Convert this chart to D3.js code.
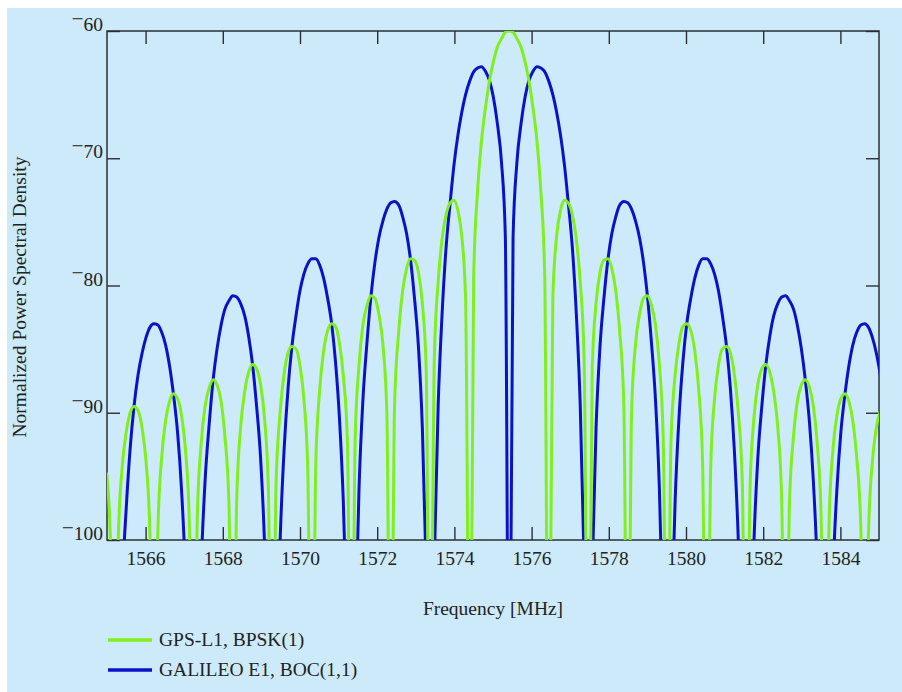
<!DOCTYPE html>
<html><head><meta charset="utf-8">
<script src="https://cdn.jsdelivr.net/npm/d3@7"></script>
<style>
html,body{margin:0;padding:0;background:#fff;}
svg{display:block;}
text{font-family:"Liberation Serif","Times New Roman",serif;fill:#222;}
</style></head><body>
<svg id="chart" width="902" height="692"></svg>
<script>
// Frequency samples [MHz]
const freqMHz = [
1564.99,1565.09,1565.19,1565.29,1565.39,1565.50,1565.60,1565.70,1565.80,1565.91,
1566.01,1566.11,1566.21,1566.32,1566.42,1566.52,1566.62,1566.72,1566.83,1566.93,
1567.03,1567.13,1567.24,1567.34,1567.44,1567.54,1567.65,1567.75,1567.85,1567.95,
1568.05,1568.16,1568.26,1568.36,1568.46,1568.57,1568.67,1568.77,1568.87,1568.98,
1569.08,1569.18,1569.28,1569.38,1569.49,1569.59,1569.69,1569.79,1569.90,1570.00,
1570.10,1570.20,1570.31,1570.41,1570.51,1570.61,1570.71,1570.82,1570.92,1571.02,
1571.12,1571.23,1571.33,1571.43,1571.53,1571.63,1571.74,1571.84,1571.94,1572.04,
1572.15,1572.25,1572.35,1572.45,1572.56,1572.66,1572.76,1572.86,1572.96,1573.07,
1573.17,1573.27,1573.37,1573.48,1573.58,1573.68,1573.78,1573.89,1573.99,1574.09,
1574.19,1574.29,1574.40,1574.50,1574.60,1574.70,1574.81,1574.91,1575.01,1575.11,
1575.22,1575.32,
1575.42,
1575.52,1575.62,1575.73,1575.83,1575.93,1576.03,1576.14,1576.24,1576.34,1576.44,
1576.55,1576.65,1576.75,1576.85,1576.95,1577.06,1577.16,1577.26,1577.36,1577.47,
1577.57,1577.67,1577.77,1577.88,1577.98,1578.08,1578.18,1578.28,1578.39,1578.49,
1578.59,1578.69,1578.80,1578.90,1579.00,1579.10,1579.21,1579.31,1579.41,1579.51,
1579.61,1579.72,1579.82,1579.92,1580.02,1580.13,1580.23,1580.33,1580.43,1580.54,
1580.64,1580.74,1580.84,1580.94,1581.05,1581.15,1581.25,1581.35,1581.46,1581.56,
1581.66,1581.76,1581.86,1581.97,1582.07,1582.17,1582.27,1582.38,1582.48,1582.58,
1582.68,1582.79,1582.89,1582.99,1583.09,1583.20,1583.30,1583.40,1583.50,1583.60,
1583.71,1583.81,1583.91,1584.01,1584.12,1584.22,1584.32,1584.42,1584.53,1584.63,
1584.73,1584.83,1584.93,1585.04
];

// GPS-L1, BPSK(1) normalized PSD [dB] (values under -100 are below the floor)
const gpsL1Bpsk = [
-94.7,-100.2,-120,-100.1,-94.4,-91.5,-90.0,-89.5,-89.8,-91.2,
-93.8,-99.3,-120,-99.1,-93.4,-90.6,-89.1,-88.5,-88.9,-90.2,
-92.8,-98.3,-120,-98.1,-92.4,-89.5,-88.0,-87.4,-87.8,-89.0,
-91.7,-97.2,-120,-96.9,-91.2,-88.3,-86.8,-86.2,-86.5,-87.8,
-90.4,-95.9,-120,-95.6,-89.8,-86.9,-85.3,-84.8,-85.0,-86.3,
-88.9,-94.3,-120,-93.9,-88.2,-85.2,-83.6,-83.0,-83.2,-84.5,
-87.0,-92.4,-120,-92.0,-86.2,-83.1,-81.5,-80.8,-81.0,-82.2,
-84.7,-90.0,-120,-89.4,-83.5,-80.4,-78.7,-77.9,-78.0,-79.0,
-81.4,-86.6,-120,-85.7,-79.7,-76.4,-74.5,-73.5,-73.3,-74.1,
-76.1,-81.0,-120,-79.2,-72.6,-68.7,-65.9,-63.9,-62.4,-61.3,
-60.6,-60.1,
-60.0,
-60.1,-60.6,-61.3,-62.4,-63.9,-65.9,-68.7,-72.6,-79.2,-120,
-81.0,-76.1,-74.1,-73.3,-73.5,-74.5,-76.4,-79.7,-85.7,-120,
-86.6,-81.4,-79.0,-78.0,-77.9,-78.7,-80.4,-83.5,-89.4,-120,
-90.0,-84.7,-82.2,-81.0,-80.8,-81.5,-83.1,-86.2,-92.0,-120,
-92.4,-87.0,-84.5,-83.2,-83.0,-83.6,-85.2,-88.2,-93.9,-120,
-94.3,-88.9,-86.3,-85.0,-84.8,-85.3,-86.9,-89.8,-95.6,-120,
-95.9,-90.4,-87.8,-86.5,-86.2,-86.8,-88.3,-91.2,-96.9,-120,
-97.2,-91.7,-89.0,-87.8,-87.4,-88.0,-89.5,-92.4,-98.1,-120,
-98.3,-92.8,-90.2,-88.9,-88.5,-89.1,-90.6,-93.4,-99.1,-120,
-99.3,-93.8,-91.2,-89.8
];

// GALILEO E1, BOC(1,1) normalized PSD [dB]
const galileoE1Boc = [
-104.5,-116.2,-120,-116.1,-104.1,-97.4,-92.8,-89.5,-87.1,-85.3,
-84.1,-83.3,-83.0,-83.1,-83.7,-84.7,-86.3,-88.5,-91.6,-96.0,
-102.6,-114.3,-120,-114.1,-102.2,-95.4,-90.8,-87.4,-85.0,-83.2,
-81.9,-81.2,-80.8,-80.9,-81.4,-82.4,-84.0,-86.2,-89.3,-93.6,
-100.2,-111.9,-120,-111.6,-99.6,-92.8,-88.1,-84.8,-82.3,-80.4,
-79.1,-78.3,-77.9,-77.9,-78.4,-79.4,-80.9,-83.0,-86.0,-90.3,
-96.8,-108.4,-120,-108.0,-95.9,-89.0,-84.3,-80.8,-78.2,-76.3,
-74.9,-74.0,-73.5,-73.4,-73.7,-74.6,-75.9,-77.9,-80.8,-84.9,
-91.2,-102.6,-120,-101.7,-89.4,-82.3,-77.2,-73.5,-70.5,-68.2,
-66.4,-65.0,-63.9,-63.2,-62.9,-62.8,-63.2,-63.9,-65.2,-67.2,
-70.3,-76.2,
-120,
-76.2,-70.3,-67.2,-65.2,-63.9,-63.2,-62.8,-62.9,-63.2,-63.9,
-65.0,-66.4,-68.2,-70.5,-73.5,-77.2,-82.3,-89.4,-101.7,-120,
-102.6,-91.2,-84.9,-80.8,-77.9,-75.9,-74.6,-73.7,-73.4,-73.5,
-74.0,-74.9,-76.3,-78.2,-80.8,-84.3,-89.0,-95.9,-108.0,-120,
-108.4,-96.8,-90.3,-86.0,-83.0,-80.9,-79.4,-78.4,-77.9,-77.9,
-78.3,-79.1,-80.4,-82.3,-84.8,-88.1,-92.8,-99.6,-111.6,-120,
-111.9,-100.2,-93.6,-89.3,-86.2,-84.0,-82.4,-81.4,-80.9,-80.8,
-81.2,-81.9,-83.2,-85.0,-87.4,-90.8,-95.4,-102.2,-114.1,-120,
-114.3,-102.6,-96.0,-91.6,-88.5,-86.3,-84.7,-83.7,-83.1,-83.0,
-83.3,-84.1,-85.3,-87.1
];

const xTicks = [1566,1568,1570,1572,1574,1576,1578,1580,1582,1584];
const yTicks = [-60,-70,-80,-90,-100];
const seriesNames = ["GPS-L1, BPSK(1)", "GALILEO E1, BOC(1,1)"];
const seriesColors = ["#7ff01e", "#0a12c8"];
const xTitle = "Frequency [MHz]";
const yTitle = "Normalized Power Spectral Density";

const svg = d3.select("#chart");
const W = 902, H = 692;
const L = 107, R = 879, T = 31, B = 540;
const axisColor = "#2b2f36";
const FS = 19.5;

svg.append("rect").attr("x",7).attr("y",8).attr("width",W-7).attr("height",H-8).attr("fill","#cdeafa");

const x = d3.scaleLinear().domain([1565,1585]).range([L,R]);
const y = d3.scaleLinear().domain([-100,-60]).range([B,T]);

svg.append("defs").append("clipPath").attr("id","plotclip")
  .append("rect").attr("x",L).attr("y",T).attr("width",R-L).attr("height",B-T);

function styleAxis(g){
  g.select(".domain").remove();
  g.selectAll(".tick line").attr("stroke",axisColor).attr("stroke-width",1.4);
  g.selectAll("text").attr("font-size",FS).attr("fill","#222")
    .attr("font-family",'"Liberation Serif","Times New Roman",serif');
}

// bottom axis with labels
const gB = svg.append("g").attr("transform",`translate(0,${B})`)
  .call(d3.axisBottom(x).tickValues(xTicks).tickSize(-13).tickPadding(11).tickFormat(d3.format("d")));
styleAxis(gB);
// top axis ticks
const gT = svg.append("g").attr("transform",`translate(0,${T})`)
  .call(d3.axisTop(x).tickValues(xTicks).tickSize(-13).tickFormat(""));
styleAxis(gT);
// left axis
const gL = svg.append("g").attr("transform",`translate(${L},0)`)
  .call(d3.axisLeft(y).tickValues(yTicks).tickSize(-13).tickPadding(4));
styleAxis(gL);
gL.selectAll(".tick text").each(function(d){
  const t = d3.select(this);
  t.text("").attr("dy","0.52em");
  t.append("tspan").attr("dy","-0.26em").attr("font-size",FS*1.1).text("\u2212");
  t.append("tspan").attr("dy","0.26em").text(Math.abs(d));
});
// right axis ticks
const gR = svg.append("g").attr("transform",`translate(${R},0)`)
  .call(d3.axisRight(y).tickValues(yTicks).tickSize(-13).tickFormat(""));
styleAxis(gR);

// frame
svg.append("rect").attr("x",L).attr("y",T).attr("width",R-L).attr("height",B-T)
  .attr("fill","none").attr("stroke",axisColor).attr("stroke-width",1.5);

const line = d3.line().curve(d3.curveMonotoneX).x(d=>x(d[0])).y(d=>y(d[1]));
const plot = svg.append("g").attr("clip-path","url(#plotclip)");
const series = [galileoE1Boc, gpsL1Bpsk];
const cols = [seriesColors[1], seriesColors[0]];
series.forEach((vals,i)=>{
  plot.append("path").datum(freqMHz.map((f,j)=>[f,vals[j]]))
    .attr("d",line).attr("fill","none").attr("stroke",cols[i])
    .attr("stroke-width",3).attr("stroke-linejoin","round");
});

// titles
svg.append("text").attr("x",493).attr("y",615).attr("text-anchor","middle")
  .attr("font-size",FS).text(xTitle);
svg.append("text").attr("transform","translate(26,297) rotate(-90)")
  .attr("text-anchor","middle").attr("font-size",FS).text(yTitle);

// legend
const legY = [640, 670];
seriesNames.forEach((name,i)=>{
  svg.append("line").attr("x1",108).attr("x2",152).attr("y1",legY[i]).attr("y2",legY[i])
    .attr("stroke",seriesColors[i]).attr("stroke-width",3.5);
  svg.append("text").attr("x",159).attr("y",legY[i]+6).attr("font-size",FS).text(name);
});
</script>
</body></html>
